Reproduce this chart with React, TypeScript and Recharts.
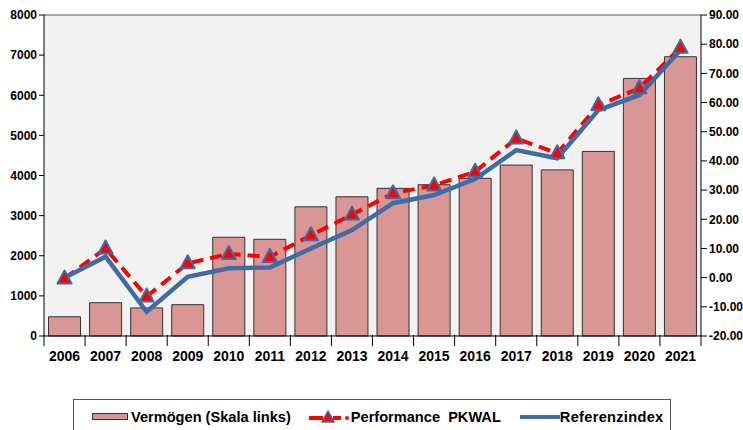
import React from 'react'
import {
  ComposedChart,
  Bar,
  Line,
  XAxis,
  YAxis,
  CartesianGrid,
  ReferenceLine,
  Legend
} from 'recharts'

// Jahre
const years = [
  '2006', '2007', '2008', '2009', '2010', '2011', '2012', '2013',
  '2014', '2015', '2016', '2017', '2018', '2019', '2020', '2021'
]

// Vermögen (linke Achse)
const vermoegen = [480, 830, 700, 780, 2460, 2410, 3220, 3470, 3680, 3770, 3930, 4260, 4140, 4600, 6420, 6960]

// Performance PKWAL (rechte Achse)
const performance = [-0.3, 10.0, -6.5, 4.9, 8.1, 7.1, 14.5, 21.6, 28.9, 31.6, 36.3, 47.7, 42.6, 59.1, 64.9, 78.8]

// Referenzindex (rechte Achse)
const referenz = [0.0, 7.2, -11.7, 0.3, 3.2, 3.5, 10.0, 16.3, 25.5, 28.3, 33.8, 43.7, 40.9, 57.4, 62.6, 78.0]

const leftTicks = [0, 1000, 2000, 3000, 4000, 5000, 6000, 7000, 8000]
const rightTicks = [-20, -10, 0, 10, 20, 30, 40, 50, 60, 70, 80, 90]

const BAR_FILL = '#D99694'
const RED = '#FF0000'
const BLUE = '#3F6CA6'
const FONT = '"Liberation Sans", Arial, sans-serif'

const data = years.map((year, i) => ({
  year,
  vermoegen: vermoegen[i],
  performance: performance[i],
  referenz: referenz[i]
}))

// Excel-style triangle marker
const TriangleDot = (props: any) => {
  const { cx, cy, index } = props
  if (cx == null || cy == null) return null
  return (
    <polygon
      key={`tri-${index}`}
      points={`${cx},${cy - 8} ${cx - 7},${cy + 5} ${cx + 7},${cy + 5}`}
      fill={RED}
      stroke={BLUE}
      strokeWidth={2}
      strokeLinejoin="round"
    />
  )
}

// category label plus tick marks between categories
const YearTick = (props: any) => {
  const { x, y, payload, index } = props
  const half = 657 / years.length / 2
  return (
    <g>
      {index === 0 && (
        <line x1={x - half} x2={x - half} y1={y - 9} y2={y + 2} stroke="#000" />
      )}
      <line x1={x + half} x2={x + half} y1={y - 9} y2={y + 2} stroke="#000" />
      <text
        x={x}
        y={y + 17}
        textAnchor="middle"
        fontFamily={FONT}
        fontWeight="bold"
        fontSize={14}
        fill="#000"
      >
        {payload.value}
      </text>
    </g>
  )
}

const LegendBox = () => (
  <div
    style={{
      width: 598,
      height: 34,
      border: '1px solid #555',
      borderBottom: 'none',
      background: '#fff',
      display: 'flex',
      alignItems: 'center',
      fontFamily: FONT,
      fontWeight: 'bold',
      fontSize: 14.6,
      color: '#000',
      boxSizing: 'border-box',
      whiteSpace: 'nowrap'
    }}
  >
    <svg width={37} height={10} style={{ marginLeft: 18 }}>
      <rect x={0.5} y={1.5} width={35} height={6} fill={BAR_FILL} stroke="#333" />
    </svg>
    <span style={{ marginLeft: 2 }}>Vermögen (Skala links)</span>
    <svg width={40} height={14} style={{ marginLeft: 18 }}>
      <line x1={0} x2={14} y1={8} y2={8} stroke={RED} strokeWidth={4} />
      <line x1={24} x2={32} y1={8} y2={8} stroke={RED} strokeWidth={4} />
      <circle cx={38} cy={8} r={2} fill={RED} />
      <polygon points="19,1 13,12 25,12" fill={RED} stroke={BLUE} strokeWidth={1.5} />
    </svg>
    <span style={{ marginLeft: 2 }}>Performance&nbsp; PKWAL</span>
    <svg width={40} height={10} style={{ marginLeft: 19 }}>
      <line x1={0} x2={40} y1={5} y2={5} stroke={BLUE} strokeWidth={4} />
    </svg>
    <span style={{ letterSpacing: 0.3 }}>Referenzindex</span>
  </div>
)

export default function App() {
  return (
    <div style={{ position: 'absolute', left: 0, top: 0, width: 743, height: 430, background: '#fff', overflow: 'hidden' }}>
      <ComposedChart
        width={743}
        height={430}
        data={data}
        margin={{ top: 15, right: 0, left: 0, bottom: 64 }}
        barCategoryGap="11%"
      >
        <CartesianGrid horizontal={false} vertical={false} fill="#F2F2F2" yAxisId="left" />
        <XAxis
          dataKey="year"
          height={30}
          tickLine={false}
          axisLine={{ stroke: '#000' }}
          tick={<YearTick />}
          interval={0}
        />
        <YAxis
          yAxisId="left"
          orientation="left"
          width={44}
          domain={[0, 8000]}
          ticks={leftTicks}
          interval={0}
          axisLine={{ stroke: '#000' }}
          tickLine={{ stroke: '#000' }}
          tickSize={5}
          tick={{ fill: '#000', fontFamily: FONT, fontWeight: 'bold', fontSize: 12 }}
        />
        <YAxis
          yAxisId="right"
          orientation="right"
          width={42}
          domain={[-20, 90]}
          ticks={rightTicks}
          interval={0}
          axisLine={{ stroke: '#000' }}
          tickLine={{ stroke: '#000' }}
          tickSize={6}
          tickFormatter={(v: number) => v.toFixed(2)}
          tick={{ fill: '#000', fontFamily: FONT, fontWeight: 'bold', fontSize: 12 }}
        />
        <ReferenceLine yAxisId="left" y={8000} stroke="#555" />
        <Legend
          layout="horizontal"
          verticalAlign="middle"
          align="center"
          content={<LegendBox />}
          wrapperStyle={{ top: 399, left: 73, width: 598, height: 34 }}
        />
        <Bar
          yAxisId="left"
          dataKey="vermoegen"
          name="Vermögen (Skala links)"
          fill={BAR_FILL}
          stroke="#333"
          strokeWidth={1}
          isAnimationActive={false}
        />
        <Line
          yAxisId="right"
          dataKey="performance"
          name="Performance  PKWAL"
          stroke={RED}
          strokeWidth={4}
          strokeDasharray="12 7"
          dot={false}
          activeDot={false}
          isAnimationActive={false}
        />
        <Line
          yAxisId="right"
          dataKey="referenz"
          name="Referenzindex"
          stroke={BLUE}
          strokeWidth={4.5}
          dot={false}
          activeDot={false}
          isAnimationActive={false}
        />
        <Line
          yAxisId="right"
          dataKey="performance"
          legendType="none"
          stroke="none"
          dot={<TriangleDot />}
          activeDot={false}
          isAnimationActive={false}
        />
      </ComposedChart>
    </div>
  )
}
